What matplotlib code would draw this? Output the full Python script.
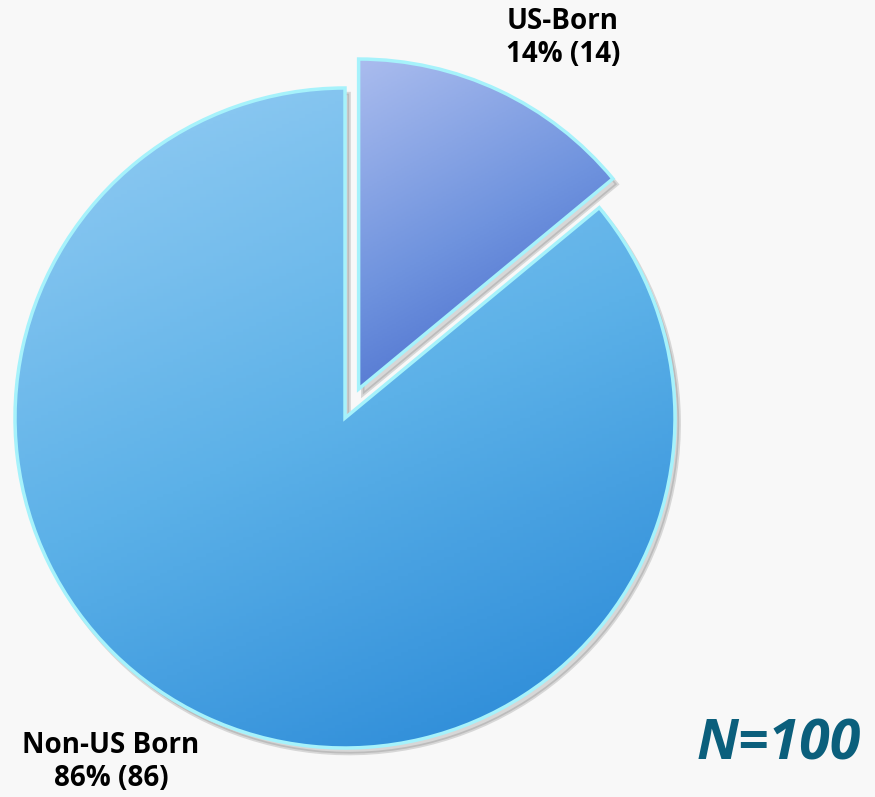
import matplotlib.pyplot as plt
import numpy as np
from matplotlib.colors import LinearSegmentedColormap

# data
labels = ["US-Born", "Non-US Born"]
counts = [14, 86]
total_n = 100

fig = plt.figure(figsize=(8.75, 7.97), dpi=100)
fig.patch.set_facecolor("#f8f8f8")
ax = fig.add_axes([0, 0, 1, 1])
ax.set_facecolor("#f8f8f8")

cx, cy, r = 345, 797 - 418, 330
# explode is in data units (pixels here); gray colors so the shadow is gray
wedges, _ = ax.pie(counts, startangle=90, counterclock=False,
                   explode=[32, 0], radius=r, center=(cx, cy),
                   colors=["#777777", "#777777"],
                   shadow=dict(ox=3, oy=-4, shade=0.3, alpha=0.2),
                   wedgeprops=dict(edgecolor="#a6f2fb", linewidth=2.5))
ax.set_aspect("equal")
ax.axis("off")

# gradient fill clipped to each wedge
cmaps = [
    LinearSegmentedColormap.from_list("us", ["#aabcee", "#6f93de", "#3a5ec6"]),
    LinearSegmentedColormap.from_list("non", ["#95cdf3", "#5cb1e8", "#2686d6"]),
]
for w, cm in zip(wedges, cmaps):
    w.set_facecolor("none")
    bb = w.get_path().get_extents(w.get_transform() - ax.transData)
    xx, yy = np.meshgrid(np.linspace(0, 1, 200), np.linspace(0, 1, 200))
    grad = 0.3 * xx + 0.7 * yy
    im = ax.imshow(grad, cmap=cm, extent=[bb.x0, bb.x1, bb.y0, bb.y1],
                   origin="upper", aspect="auto", zorder=5)
    im.set_clip_path(w)
    w.set_zorder(6)
ax.set_xlim(0, 875)
ax.set_ylim(0, 797)

font = "Open Sans"
ax.text(563, 797 - 38, f"{labels[0]}\n{counts[0]}% ({counts[0]})", ha="center", va="center",
        fontsize=20, fontweight="bold", family=font, linespacing=1.2, zorder=10)
ax.text(111, 797 - 762, f"{labels[1]}\n{counts[1]}% ({counts[1]})", ha="center", va="center",
        fontsize=20, fontweight="bold", family=font, linespacing=1.2, zorder=10)
ax.text(779, 797 - 745, f"N={total_n}", ha="center", va="center", fontsize=40,
        fontweight="bold", fontstyle="italic", family=font, color="#0b5f7c", zorder=10)

fig.savefig("out.png", dpi=100, facecolor=fig.get_facecolor())
